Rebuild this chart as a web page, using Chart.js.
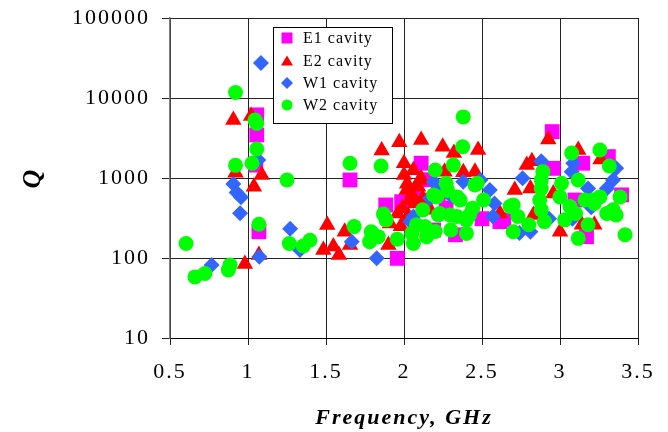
<!DOCTYPE html>
<html>
<head>
<meta charset="utf-8">
<script src="https://cdn.jsdelivr.net/npm/chart.js@4"></script>
<style>
  html, body { margin: 0; padding: 0; background: #fff; }
  canvas { display: block; }
</style>
</head>
<body>
<canvas id="chart" width="668" height="432"></canvas>
<script>
// series names (legend order)
const seriesNames = ["E1 cavity", "E2 cavity", "W1 cavity", "W2 cavity"];

// tick labels
const xTicks = [0.5, 1, 1.5, 2, 2.5, 3, 3.5];
const yTicks = [10, 100, 1000, 10000, 100000];

// E1 cavity
const e1Freq = [1.056, 1.056, 1.05, 1.07, 1.654, 1.883, 1.957, 1.985, 2.11, 2.135, 2.15, 2.19, 2.22, 2.33, 2.5, 2.615, 2.64, 2.95, 2.957, 3.096, 3.145, 3.17, 3.31, 3.395, 2.06, 2.27];
const e1Q = [6150, 3450, 1450, 213, 945, 460, 99, 505, 1530, 530, 950, 224, 640, 195, 310, 285, 300, 3800, 1320, 530, 1530, 185, 1850, 615, 700, 420];

// E2 cavity
const e2Freq = [0.906, 1.02, 0.92, 1.088, 1.038, 1.07, 0.98,
  1.508, 1.483, 1.547, 1.583, 1.62, 1.654,
  1.857, 1.97, 2.11, 2.248, 2.32, 2.475,
  2.0, 2.0, 2.11, 2.38, 2.455, 2.26, 2.1, 2.017, 2.04, 2.145, 1.96, 1.91, 1.9, 2.167,
  2.02, 2.05, 2.07, 1.99, 2.03, 2.09, 2.12, 1.98, 2.06,
  2.71, 2.615,
  2.925, 2.787, 2.82, 2.81, 2.957, 3.0, 2.83, 3.117, 3.14, 3.22, 3.26];
const e2Q = [5300, 5960, 1160, 1090, 780, 109, 84,
  259, 126, 139, 109, 213, 145,
  2200, 2800, 2990, 2460, 2050, 2240,
  1530, 1090, 990, 1180, 1200, 1200, 945, 710, 530, 440, 360, 270, 145, 400,
  850, 620, 480, 420, 330, 780, 560, 250, 1250,
  710, 360,
  3030, 1450, 1620, 740, 640, 213, 345, 2240, 260, 260, 1700];

// W1 cavity
const w1Freq = [1.083, 1.066, 0.906, 0.927, 0.955, 0.949, 1.073, 0.767, 1.27, 1.333, 1.665, 1.825,
  2.19, 2.38, 2.49, 2.55, 2.167, 2.58, 2.57, 2.04, 2.06, 2.23, 2.3,
  2.88, 2.76, 2.81, 2.74, 2.93, 3.085, 3.075, 3.18, 3.36, 3.34, 3.3, 3.08, 3.2];
const w1Q = [27400, 1680, 840, 660, 575, 362, 104, 81.5, 232, 126, 160, 99,
  900, 900, 945, 710, 560, 480, 330, 285, 330, 700, 600,
  1620, 990, 213, 205, 310, 1530, 1200, 740, 1320, 945, 740, 310, 430];

// W2 cavity
const w2Freq = [0.92, 1.045, 1.056, 1.056, 1.026, 0.92, 1.07, 0.603, 1.25, 1.265, 0.885, 0.874, 0.66, 0.724, 1.354, 1.397,
  1.654, 1.853, 1.868, 1.885, 1.68, 1.79, 1.78, 1.835, 1.957,
  2.38, 2.376, 2.2, 2.316, 2.27, 2.47, 2.21, 2.34, 2.23, 2.34, 2.4, 2.05, 2.135, 2.145, 2.06, 2.3, 2.4, 2.19, 2.36, 2.51,
  2.68, 2.44, 2.22, 2.295, 2.42, 2.7, 2.455, 2.08, 2.12, 2.28, 2.2,
  2.89, 2.88, 2.88, 2.87, 2.88, 3.01, 3.0, 2.7, 2.73, 2.8, 2.9, 3.075, 3.117, 3.064, 3.03, 3.16, 3.117, 3.18,
  3.256, 3.316, 3.385, 3.256, 3.21, 3.34, 3.417, 3.3, 3.36, 3.1, 3.22];
const w2Q = [11700, 5300, 4800, 2300, 1530, 1440, 264, 152, 945, 152, 82, 71, 58, 64, 141, 167,
  1530, 1410, 355, 300, 247, 213, 160, 185, 172,
  5800, 2460, 1260, 1450, 860, 860, 580, 580, 360, 330, 300, 203, 247, 185, 152, 224, 203, 615, 530, 530,
  440, 420, 345, 345, 345, 213, 820, 260, 400, 700, 215,
  1200, 945, 740, 530, 400, 860, 580, 460, 330, 260, 285, 2050, 945, 440, 300, 530, 176, 260,
  2240, 1410, 580, 580, 530, 400, 195, 360, 345, 360, 480];

const toPoints = (xs, ys) => xs.map((x, i) => ({ x: x, y: ys[i] }));

const serif = "'Liberation Serif', 'DejaVu Serif', serif";

// marker drawing for the legend box
function drawMarker(ctx, style, x, y, color) {
  ctx.fillStyle = color;
  ctx.beginPath();
  if (style === "rect") {
    ctx.rect(x - 5.5, y - 5.5, 11, 11);
  } else if (style === "triangle") {
    ctx.moveTo(x, y - 5.5);
    ctx.lineTo(x + 6, y + 4.5);
    ctx.lineTo(x - 6, y + 4.5);
    ctx.closePath();
  } else if (style === "rectRot") {
    ctx.moveTo(x, y - 6);
    ctx.lineTo(x + 6, y);
    ctx.lineTo(x, y + 6);
    ctx.lineTo(x - 6, y);
    ctx.closePath();
  } else {
    ctx.arc(x, y, 5.5, 0, Math.PI * 2);
  }
  ctx.fill();
}

const spacingPlugin = {
  id: "spacing",
  beforeUpdate(chart) { chart.ctx.letterSpacing = "2px"; },
  beforeDraw(chart) { chart.ctx.letterSpacing = "2px"; },
};

const legendBox = {
  id: "legendBox",
  afterDraw(chart) {
    const ctx = chart.ctx;
    ctx.save();
    ctx.fillStyle = "#fff";
    ctx.fillRect(273.5, 27.5, 119, 96);
    ctx.strokeStyle = "#000";
    ctx.lineWidth = 1;
    ctx.strokeRect(273.5, 27.5, 119, 96);
    const rows = [38, 61, 83, 105];
    ctx.letterSpacing = "1px";
    ctx.font = "16px " + serif;
    ctx.textBaseline = "middle";
    ctx.textAlign = "left";
    chart.data.datasets.forEach((ds, i) => {
      drawMarker(ctx, ds.pointStyle, 287, rows[i], ds.backgroundColor);
      ctx.fillStyle = "#000";
      ctx.fillText(seriesNames[i], 303, rows[i] + 1);
    });
    ctx.restore();
  },
};

const ctx = document.getElementById("chart").getContext("2d");
const chart = new Chart(ctx, {
  type: "scatter",
  data: {
    datasets: [
      {
        label: seriesNames[0],
        data: toPoints(e1Freq, e1Q),
        pointStyle: "rect",
        pointRadius: 10.5,
        backgroundColor: "#ff00ff",
        borderWidth: 0,
        order: 4,
      },
      {
        label: seriesNames[1],
        data: toPoints(e2Freq, e2Q),
        pointStyle: "triangle",
        pointRadius: 9.5,
        backgroundColor: "#ff0000",
        borderWidth: 0,
        order: 3,
      },
      {
        label: seriesNames[2],
        data: toPoints(w1Freq, w1Q),
        pointStyle: "rectRot",
        pointRadius: 8,
        backgroundColor: "#3366ff",
        borderWidth: 0,
        order: 2,
      },
      {
        label: seriesNames[3],
        data: toPoints(w2Freq, w2Q),
        pointStyle: "circle",
        pointRadius: 7.5,
        backgroundColor: "#00ff00",
        borderWidth: 0,
        order: 1,
      },
    ],
  },
  options: {
    responsive: false,
    animation: false,
    layout: { padding: { left: 0, right: 30, top: 18, bottom: 0 } },
    plugins: {
      legend: { display: false },
      tooltip: { enabled: false },
    },
    scales: {
      x: {
        type: "linear",
        min: 0.5,
        max: 3.5,
        afterBuildTicks: (scale) => { scale.ticks = xTicks.map((v) => ({ value: v })); },
        afterFit: (scale) => {
          scale.height = 94;
          scale.paddingLeft = 0;
          scale.paddingRight = 0;
        },
        ticks: {
          color: "#000",
          font: { family: serif, size: 22 },
          padding: 14,
          maxRotation: 0,
          callback: (v) => String(v),
        },
        grid: { color: "#222", lineWidth: 1, tickLength: 7 },
        border: { color: "#000", width: 1 },
        title: {
          display: true,
          text: "Frequency, GHz",
          color: "#000",
          font: { family: serif, size: 22, style: "italic", weight: "bold" },
          padding: { top: 0, bottom: 0 },
        },
      },
      y: {
        type: "logarithmic",
        min: 10,
        max: 100000,
        afterBuildTicks: (scale) => { scale.ticks = yTicks.map((v) => ({ value: v })); },
        afterFit: (scale) => {
          scale.width = 170;
          scale.paddingTop = 0;
          scale.paddingBottom = 0;
        },
        ticks: {
          color: "#000",
          font: { family: serif, size: 22 },
          padding: 12,
          callback: (v) => String(v),
        },
        grid: { color: "#222", lineWidth: 1, tickLength: 8 },
        border: { color: "#777", width: 1.5 },
        title: {
          display: true,
          text: "Q",
          color: "#000",
          font: { family: serif, size: 26, style: "italic", weight: "bold" },
          padding: { top: 18, bottom: 0 },
        },
      },
    },
  },
  plugins: [spacingPlugin, legendBox],
});
</script>
</body>
</html>
